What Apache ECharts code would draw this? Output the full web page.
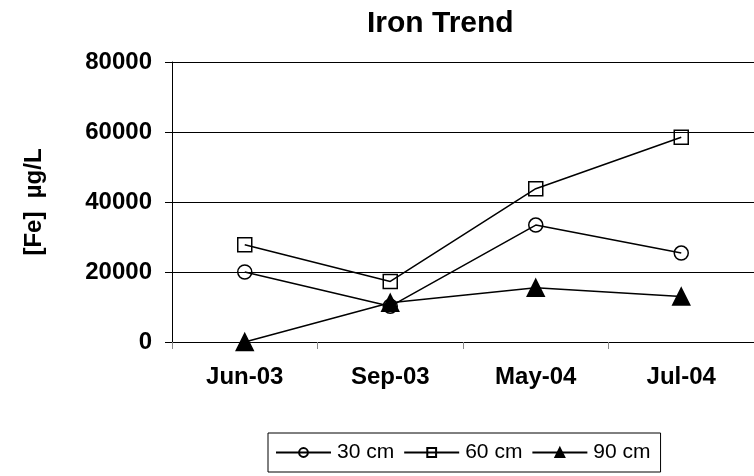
<!DOCTYPE html>
<html>
<head>
    <meta charset="utf-8">
    <title>Iron Trend</title>
    <script src="https://cdn.jsdelivr.net/npm/echarts@6/dist/echarts.min.js"></script>
    <style>
        html, body { margin: 0; padding: 0; background: #fff; }
        #chart { width: 754px; height: 476px; }
    </style>
</head>
<body>
<div id="chart"></div>
<script>
    var categories = ['Jun-03', 'Sep-03', 'May-04', 'Jul-04'];
    var fe30 = [20000, 10200, 33400, 25400];
    var fe60 = [27800, 17300, 43800, 58500];
    var fe90 = [0, 11200, 15500, 13000];
    var yTicks = [0, 20000, 40000, 60000, 80000];

    var font = 'Liberation Sans, Arial, sans-serif';

    function lineSeries(name, data, symbol, size, fill) {
        return {
            name: name,
            type: 'line',
            data: data,
            symbol: symbol,
            symbolSize: size,
            lineStyle: {color: '#000', width: 1.5},
            itemStyle: {color: fill, borderColor: '#000', borderWidth: 1.5},
            emphasis: {disabled: true}
        };
    }

    var chart = echarts.init(document.getElementById('chart'));
    chart.setOption({
        animation: false,
        backgroundColor: '#fff',
        title: {
            text: 'Iron Trend',
            left: 362,
            top: 4,
            textStyle: {fontFamily: font, fontSize: 30, fontWeight: 'bold', color: '#000'}
        },
        grid: {left: 172, right: -2, top: 62, bottom: 134},
        legend: {
            left: 268,
            top: 433,
            orient: 'horizontal',
            itemWidth: 55,
            itemHeight: 11,
            itemGap: 9,
            padding: [9, 10, 9, 7],
            borderColor: '#000',
            borderWidth: 1,
            textStyle: {fontFamily: font, fontSize: 21, color: '#000', padding: [0, 0, 0, 1]},
            data: ['30 cm', '60 cm', '90 cm']
        },
        xAxis: {
            type: 'category',
            data: categories,
            boundaryGap: true,
            axisLine: {lineStyle: {color: '#000', width: 1}},
            axisTick: {show: true, length: 7, lineStyle: {color: '#888'}},
            axisLabel: {fontFamily: font, fontSize: 24, fontWeight: 'bold', color: '#000', margin: 23}
        },
        yAxis: {
            type: 'value',
            min: yTicks[0],
            max: yTicks[yTicks.length - 1],
            interval: 20000,
            name: '[Fe]  \u00b5g/L',
            nameLocation: 'middle',
            nameGap: 126,
            nameTextStyle: {fontFamily: font, fontSize: 24, fontWeight: 'bold', color: '#000'},
            axisLine: {show: true, lineStyle: {color: '#000', width: 1}},
            axisTick: {show: true, length: 7, lineStyle: {color: '#000'}},
            axisLabel: {
                fontFamily: font, fontSize: 24, fontWeight: 'bold', color: '#000', margin: 20,
                formatter: function (v) { return String(v); }
            },
            splitLine: {show: true, lineStyle: {color: '#000', width: 1}}
        },
        series: [
            lineSeries('30 cm', fe30, 'circle', 14, 'transparent'),
            lineSeries('60 cm', fe60, 'rect', 14, 'transparent'),
            lineSeries('90 cm', fe90, 'triangle', 17, '#000')
        ]
    });
</script>
</body>
</html>
